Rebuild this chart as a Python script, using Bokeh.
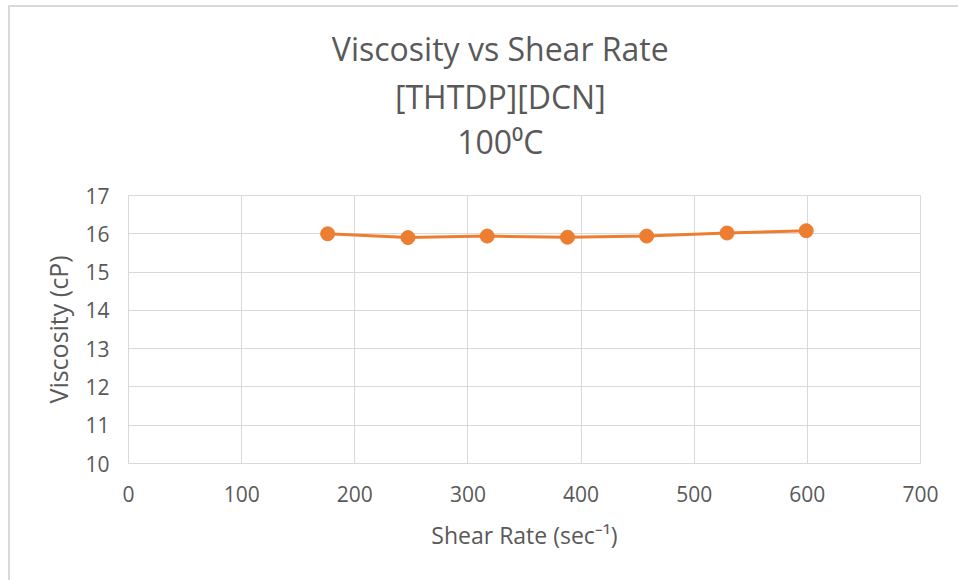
from bokeh.plotting import figure
from bokeh.layouts import column
from bokeh.models import Range1d, Label, FixedTicker
from bokeh.embed import file_html
from bokeh.resources import INLINE

shear_rate = [176, 247, 317, 388, 458, 529, 599]
viscosity = [16.00, 15.90, 15.94, 15.91, 15.94, 16.02, 16.08]
x_ticks = [0, 100, 200, 300, 400, 500, 600, 700]
y_ticks = [10, 11, 12, 13, 14, 15, 16, 17]
title_lines = ["Viscosity vs Shear Rate", "[THTDP][DCN]", "100\u2070C"]

TEXT = "#595959"
GRID = "#d9d9d9"
ORANGE = "#ED7D31"
FONT = "Open Sans"

W = 948
TH = 173   # title strip height (px)

# --- title strip: a bare figure whose ranges are in pixels ---
t = figure(width=W, height=TH, output_backend="svg", toolbar_location=None,
           x_range=Range1d(0, W), y_range=Range1d(0, TH),
           min_border=0, outline_line_color=None)
t.axis.visible = False
t.grid.visible = False
t.background_fill_color = "white"
t.border_fill_color = "white"
title_y = [TH - 41, TH - 89, TH - 134]
for txt, yy in zip(title_lines, title_y):
    t.add_layout(Label(x=445, y=yy, text=txt, text_align="center", text_baseline="middle",
                       text_font=FONT, text_font_size="32px", text_color=TEXT))

# --- main chart ---
p = figure(width=W, height=268 + 15 + 125, output_backend="svg", toolbar_location=None,
           x_range=Range1d(0, 700), y_range=Range1d(10, 17),
           min_border_left=118, min_border_right=38, min_border_top=15, min_border_bottom=125)
p.background_fill_color = "white"
p.border_fill_color = "white"
p.outline_line_color = GRID

p.line(shear_rate, viscosity, line_color=ORANGE, line_width=3)
p.scatter(shear_rate, viscosity, size=14, fill_color=ORANGE, line_color=ORANGE)

for ax in (p.xaxis, p.yaxis):
    ax.major_tick_line_color = None
    ax.minor_tick_line_color = None
    ax.axis_line_color = GRID
    ax.major_label_text_color = TEXT
    ax.major_label_text_font = FONT
    ax.major_label_text_font_size = "21px"
    ax.axis_label_text_color = TEXT
    ax.axis_label_text_font = FONT
    ax.axis_label_text_font_style = "normal"

p.xaxis.axis_label_text_font_size = "23px"
p.yaxis.axis_label_text_font_size = "25px"
p.xaxis.ticker = FixedTicker(ticks=x_ticks)
p.yaxis.ticker = FixedTicker(ticks=y_ticks)
p.xaxis.major_label_standoff = 16
p.yaxis.major_label_standoff = 13
p.xaxis.axis_label = "Shear Rate (sec\u207b\u00b9)"
p.yaxis.axis_label = "Viscosity (cP)"
p.xaxis.axis_label_standoff = 14
p.yaxis.axis_label_standoff = 7

p.xgrid.ticker = FixedTicker(ticks=x_ticks)
p.ygrid.ticker = FixedTicker(ticks=y_ticks)
p.grid.grid_line_color = GRID
p.grid.grid_line_width = 1

layout = column(t, p, spacing=0,
                styles={"margin-left": "8px", "margin-top": "5px",
                        "border-left": "2px solid #d9d9d9", "border-top": "2px solid #d9d9d9"})

open("out.html", "w").write(file_html(layout, INLINE))
